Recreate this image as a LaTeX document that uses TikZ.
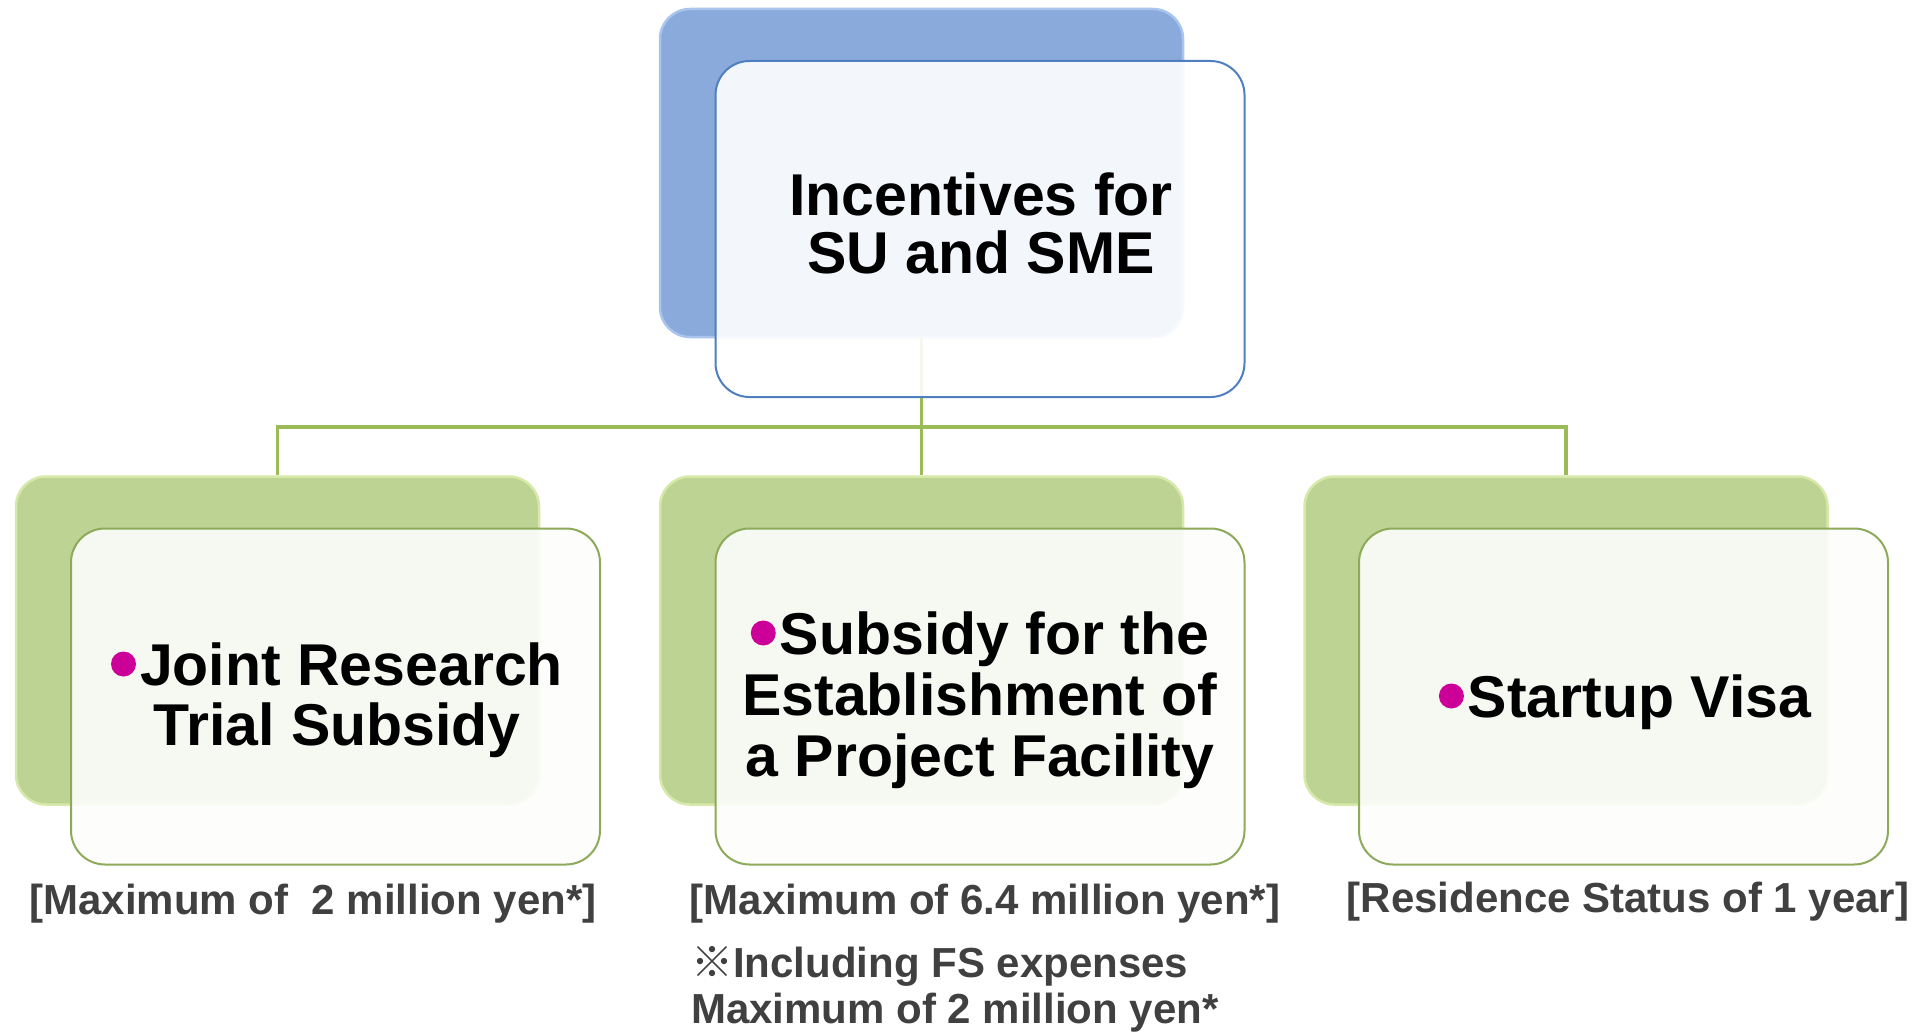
\documentclass[tikz,border=0pt]{standalone}
\usepackage{fontspec}
\setmainfont{Liberation Sans}
\newfontfamily\cjk{Noto Sans CJK JP}
\definecolor{blueback}{HTML}{89AADB}
\definecolor{bluerim}{HTML}{A9C5EE}
\definecolor{blueline}{HTML}{4F7FBE}
\definecolor{greenback}{HTML}{BDD394}
\definecolor{greenrim}{HTML}{D6E9A8}
\definecolor{greenline}{HTML}{8DAA5B}
\definecolor{connline}{HTML}{9BBB59}
\definecolor{bulcol}{HTML}{CC0099}
\definecolor{labgrey}{HTML}{404040}
\newcommand\bulmark{\tikz[baseline=0pt]\fill[bulcol] (12.5pt,21pt) circle[radius=12.5pt];\hspace{4pt}}
\begin{document}
\begin{tikzpicture}[x=1pt,y=-1pt,
  backbox/.style={rectangle, rounded corners=30pt, minimum width=523pt, minimum height=328pt, inner sep=0pt, line width=2.5pt},
  frontbox/.style={rectangle, rounded corners=34pt, minimum width=529pt, minimum height=336pt, inner sep=0pt, line width=2pt, fill opacity=0.9},
  bluebk/.style={backbox, fill=blueback, draw=bluerim},
  greenbk/.style={backbox, fill=greenback, draw=greenrim},
  bluefr/.style={frontbox, fill=white, draw=blueline},
  greenfr/.style={frontbox, fill=white!97!greenback, draw=greenline},
  conn/.style={draw=connline, line width=3.5pt},
  txt/.style={font=\fontsize{59}{59}\selectfont\bfseries, inner sep=0pt, anchor=base},
  lab/.style={font=\fontsize{42}{42}\selectfont\bfseries, text=labgrey, inner sep=0pt, anchor=base}]
\fill[white] (0,0) rectangle (1928,1033);
\useasboundingbox (0,0) rectangle (1928,1033);
% back boxes
\node[bluebk] (tb) at (921.5,173) {};
\node[greenbk] (lb) at (277.5,640.5) {};
\node[greenbk] (mb) at (921.5,640.5) {};
\node[greenbk] (rb) at (1566,640.5) {};
% connectors
\coordinate (j) at (921.5,427);
\draw[conn] (tb.south) -- (j);
\draw[conn] (j) -| (lb.north);
\draw[conn] (j) -- (mb.north);
\draw[conn] (j) -| (rb.north);
% front boxes
\node[bluefr] (tf) at (980,229) {};
\node[greenfr] (lf) at (335.5,696.5) {};
\node[greenfr] (mf) at (980,696.5) {};
\node[greenfr] (rf) at (1623.5,696.5) {};
% texts
\node[txt] (t1) at (981,215) {Incentives for};
\node[txt] (t2) at (981,273) {SU and SME};
\node[txt] (l1) at (337,685) {\bulmark Joint Research};
\node[txt] (l2) at (337,745) {Trial Subsidy};
\node[txt] (m1) at (980,654) {\bulmark Subsidy for the};
\node[txt] (m2) at (980,715) {Establishment of};
\node[txt] (m3) at (980,776) {a Project Facility};
\node[txt] (r1) at (1625,717) {\bulmark Startup Visa};
% labels
\node[lab] (la) at (313,914) {[Maximum of~~2 million yen*]};
\node[lab] (ma) at (985,914) {[Maximum of 6.4 million yen*]};
\node[lab, anchor=base west] (mb2) at (691,977) {{\cjk\mdseries ※}Including FS expenses};
\node[lab, anchor=base west] (mb3) at (691,1023) {Maximum of 2 million yen*};
\node[lab] (ra) at (1628,912) {[Residence Status of 1 year]};
\end{tikzpicture}
\end{document}
